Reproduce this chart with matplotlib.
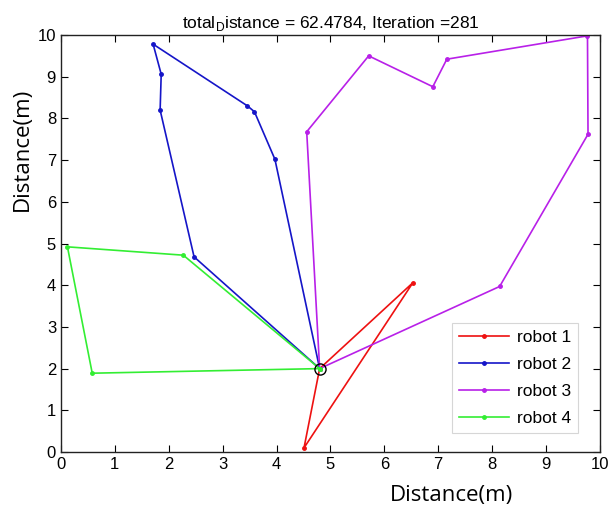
import matplotlib
matplotlib.use("Agg")
import matplotlib.pyplot as plt

depot = (4.80, 2.00)
r1_x = [4.80, 6.53, 4.51, 4.80]
r1_y = [2.00, 4.06, 0.10, 2.00]
r2_x = [4.80, 2.47, 1.84, 1.86, 1.71, 3.46, 3.59, 3.97, 4.80]
r2_y = [2.00, 4.68, 8.20, 9.06, 9.78, 8.30, 8.16, 7.02, 2.00]
r3_x = [4.80, 8.14, 9.78, 9.77, 7.16, 6.90, 5.71, 4.56, 4.80]
r3_y = [2.00, 3.97, 7.62, 9.98, 9.42, 8.76, 9.50, 7.68, 2.00]
r4_x = [4.80, 2.27, 0.12, 0.58, 4.80]
r4_y = [2.00, 4.72, 4.92, 1.89, 2.00]
labels = ["robot 1", "robot 2", "robot 3", "robot 4"]
colors = ["#ee1111", "#1515c8", "#b820e8", "#33ee33"]
title = "total$_\\mathregular{D}$istance = 62.4784, Iteration =281"

plt.rcParams['font.family'] = ['Liberation Sans', 'DejaVu Sans']
plt.rcParams['mathtext.fontset'] = 'custom'
plt.rcParams['mathtext.rm'] = 'Liberation Sans'
fig = plt.figure(figsize=(6.14, 5.14), dpi=100)
ax = fig.add_axes([0.0993, 0.1206, 0.8777, 0.8113])

for xs, ys, c, lab in zip([r1_x, r2_x, r3_x, r4_x], [r1_y, r2_y, r3_y, r4_y], colors, labels):
    ax.plot(xs, ys, '-', color=c, marker='o', markersize=2.5, linewidth=1.2, label=lab)

ax.plot([depot[0]], [depot[1]], 'o', markersize=8, markerfacecolor='none', markeredgecolor='black', markeredgewidth=1.0)

ax.set_xlim(0, 10)
ax.set_ylim(0, 10)
ax.set_xticks(range(0, 11))
ax.set_yticks(range(0, 11))
ax.tick_params(direction='in', top=True, right=True, labelsize=12, length=5, width=0.8)
for s in ax.spines.values():
    s.set_linewidth(1.0)
    s.set_color('#222222')

ax.set_title(title, fontsize=12.5, pad=5)
ax.set_xlabel("Distance(m)", fontsize=16, family=['Open Sans', 'DejaVu Sans'])
ax.xaxis.set_label_coords(0.725, -0.078)
ax.set_ylabel("Distance(m)", fontsize=16, family=['Open Sans', 'DejaVu Sans'])
ax.yaxis.set_label_coords(-0.052, 0.725)

leg = ax.legend(loc='lower right', bbox_to_anchor=(0.96, 0.045), fontsize=12.5, frameon=True,
                fancybox=False, edgecolor='#cccccc', handlelength=2.9, handletextpad=0.45,
                borderpad=0.4, borderaxespad=0.0, labelspacing=0.68)
leg.get_frame().set_linewidth(0.8)

fig.savefig("out.png", dpi=100)
